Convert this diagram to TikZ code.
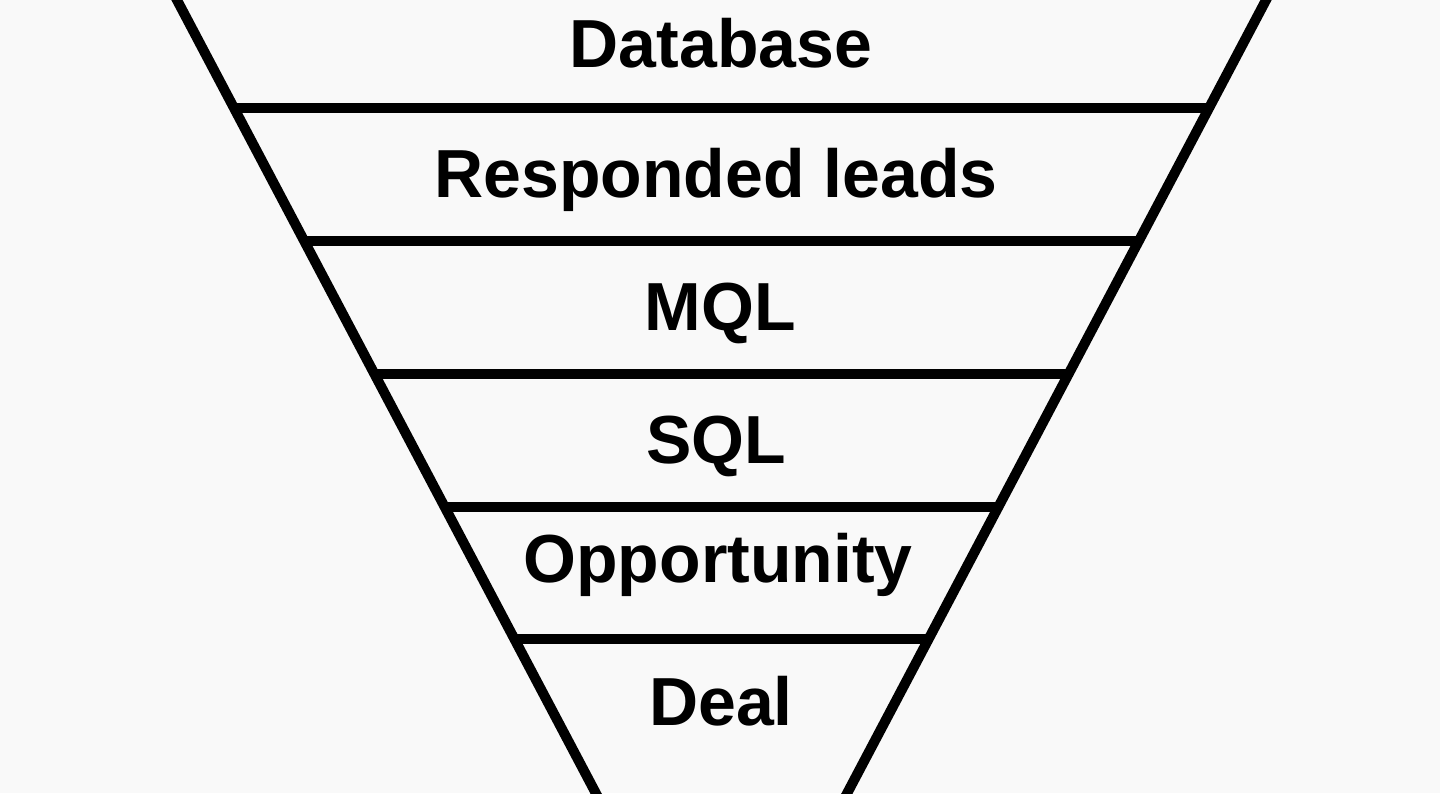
\documentclass[tikz,border=0pt]{standalone}
\usepackage{fontspec}
\setmainfont{Liberation Sans}
\definecolor{paper}{HTML}{F9F9F9}
\begin{document}
\begin{tikzpicture}[x=0.5pt,y=-0.5pt,
  funnelline/.style={line width=5pt,black},
  tierlabel/.style={anchor=base,inner sep=0pt,font=\fontsize{34pt}{40pt}\selectfont\bfseries}]
\useasboundingbox (0,0) rectangle (1440,793);
\fill[paper] (0,0) rectangle (1440,793);
\clip (0,0) rectangle (1440,793);
% funnel sides
\coordinate (lt) at (166.4,-20);
\coordinate (lb) at (606.3,813);
\coordinate (rt) at (1276.6,-20);
\coordinate (rb) at (836.7,813);
\draw[funnelline] (lt) -- (lb);
\draw[funnelline] (rt) -- (rb);
% dividers
\coordinate (l1) at (234.0,108); \coordinate (r1) at (1209.0,108);
\coordinate (l2) at (304.2,241); \coordinate (r2) at (1138.8,241);
\coordinate (l3) at (374.5,374); \coordinate (r3) at (1068.5,374);
\coordinate (l4) at (444.7,507); \coordinate (r4) at (998.3,507);
\coordinate (l5) at (514.4,639); \coordinate (r5) at (928.6,639);
\foreach \i in {1,...,5} \draw[funnelline] (l\i) -- (r\i);
% labels
\node[tierlabel] (db) at (721,67) {Database};
\node[tierlabel] (rl) at (716,197) {Responded leads};
\node[tierlabel] (mql) at (720,330) {MQL};
\node[tierlabel] (sql) at (716,463) {SQL};
\node[tierlabel] (opp) at (718,582) {Opportunity};
\node[tierlabel] (deal) at (721,725) {Deal};
\end{tikzpicture}
\end{document}
